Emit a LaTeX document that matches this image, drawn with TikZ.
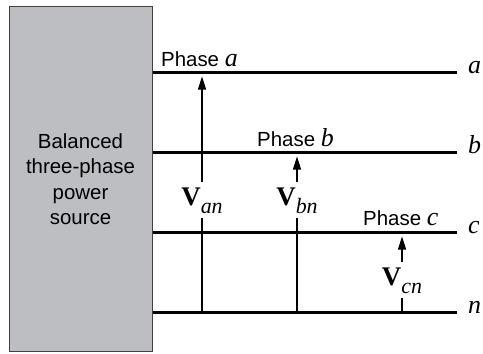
\documentclass[tikz,border=0pt]{standalone}
\usepackage{fontspec}
\setmainfont{Liberation Sans}
\newfontfamily\tms{Liberation Serif}
\usetikzlibrary{arrows.meta, positioning}

\definecolor{srcgray}{RGB}{189,190,194}

\newcommand{\phvar}[1]{{\tms\itshape\fontsize{26}{26}\selectfont #1}}
\newcommand{\phasor}[1]{{\tms\bfseries\fontsize{27}{27}\selectfont V}\raisebox{-8bp}{\tms\itshape\fontsize{22}{22}\selectfont #1}}

\begin{document}
\begin{tikzpicture}[
  x=1bp, y=-1bp,
  source/.style={rectangle, draw=black!75, fill=srcgray, line width=1bp, minimum width=143bp, minimum height=345bp, anchor=north west, inner sep=0pt},
  srctext/.style={align=center, inner sep=0pt, anchor=north, font=\fontsize{20.5}{25.7}\selectfont},
  wire/.style={line width=2.2bp},
  vec/.style={-{Triangle[length=13bp, width=8bp]}, line width=1.6bp, shorten >=4bp},
  stem/.style={line width=1.6bp},
  endlbl/.style={inner sep=0pt, anchor=base west},
  phlbl/.style={inner sep=0pt, anchor=base west, font=\fontsize{20.5}{20.5}\selectfont},
  vlbl/.style={inner xsep=0pt, inner ysep=5bp, anchor=base}
]
  \useasboundingbox (0,0) rectangle (483,353);

  \node[source] (src) at (9,6) {};
  \node[srctext] (srclbl) at (80.5,133) {Balanced\\three-phase\\power\\source};

  % lines a, b, c and neutral
  \foreach \w/\y in {a/72.5, b/152.5, c/232.5, n/312.5} {
    \coordinate (end\w) at (457,\y);
    \node[endlbl] (lbl\w) at ([shift={(11bp,-1bp)}]end\w) {\phvar{\w}};
    \draw[wire] (src.east |- end\w) -- (end\w);
  }

  \node[phlbl] (pha) at (161,66) {Phase \phvar{a}};
  \node[phlbl] (phb) at (257,146) {Phase \phvar{b}};
  \node[phlbl] (phc) at (363,225) {Phase \phvar{c}};

  \node[vlbl] (van) at (202,205) {\phasor{an}};
  \node[vlbl] (vbn) at (297,205) {\phasor{bn}};
  \node[vlbl] (vcn) at (402,285) {\phasor{cn}};

  \draw[vec] (van) -- (van |- enda);
  \draw[stem] (van) -- (van |- endn);
  \draw[vec] (vbn) -- (vbn |- endb);
  \draw[stem] (vbn) -- (vbn |- endn);
  \draw[vec] (vcn) -- (vcn |- endc);
  \draw[stem] (vcn) -- (vcn |- endn);

\end{tikzpicture}
\end{document}
